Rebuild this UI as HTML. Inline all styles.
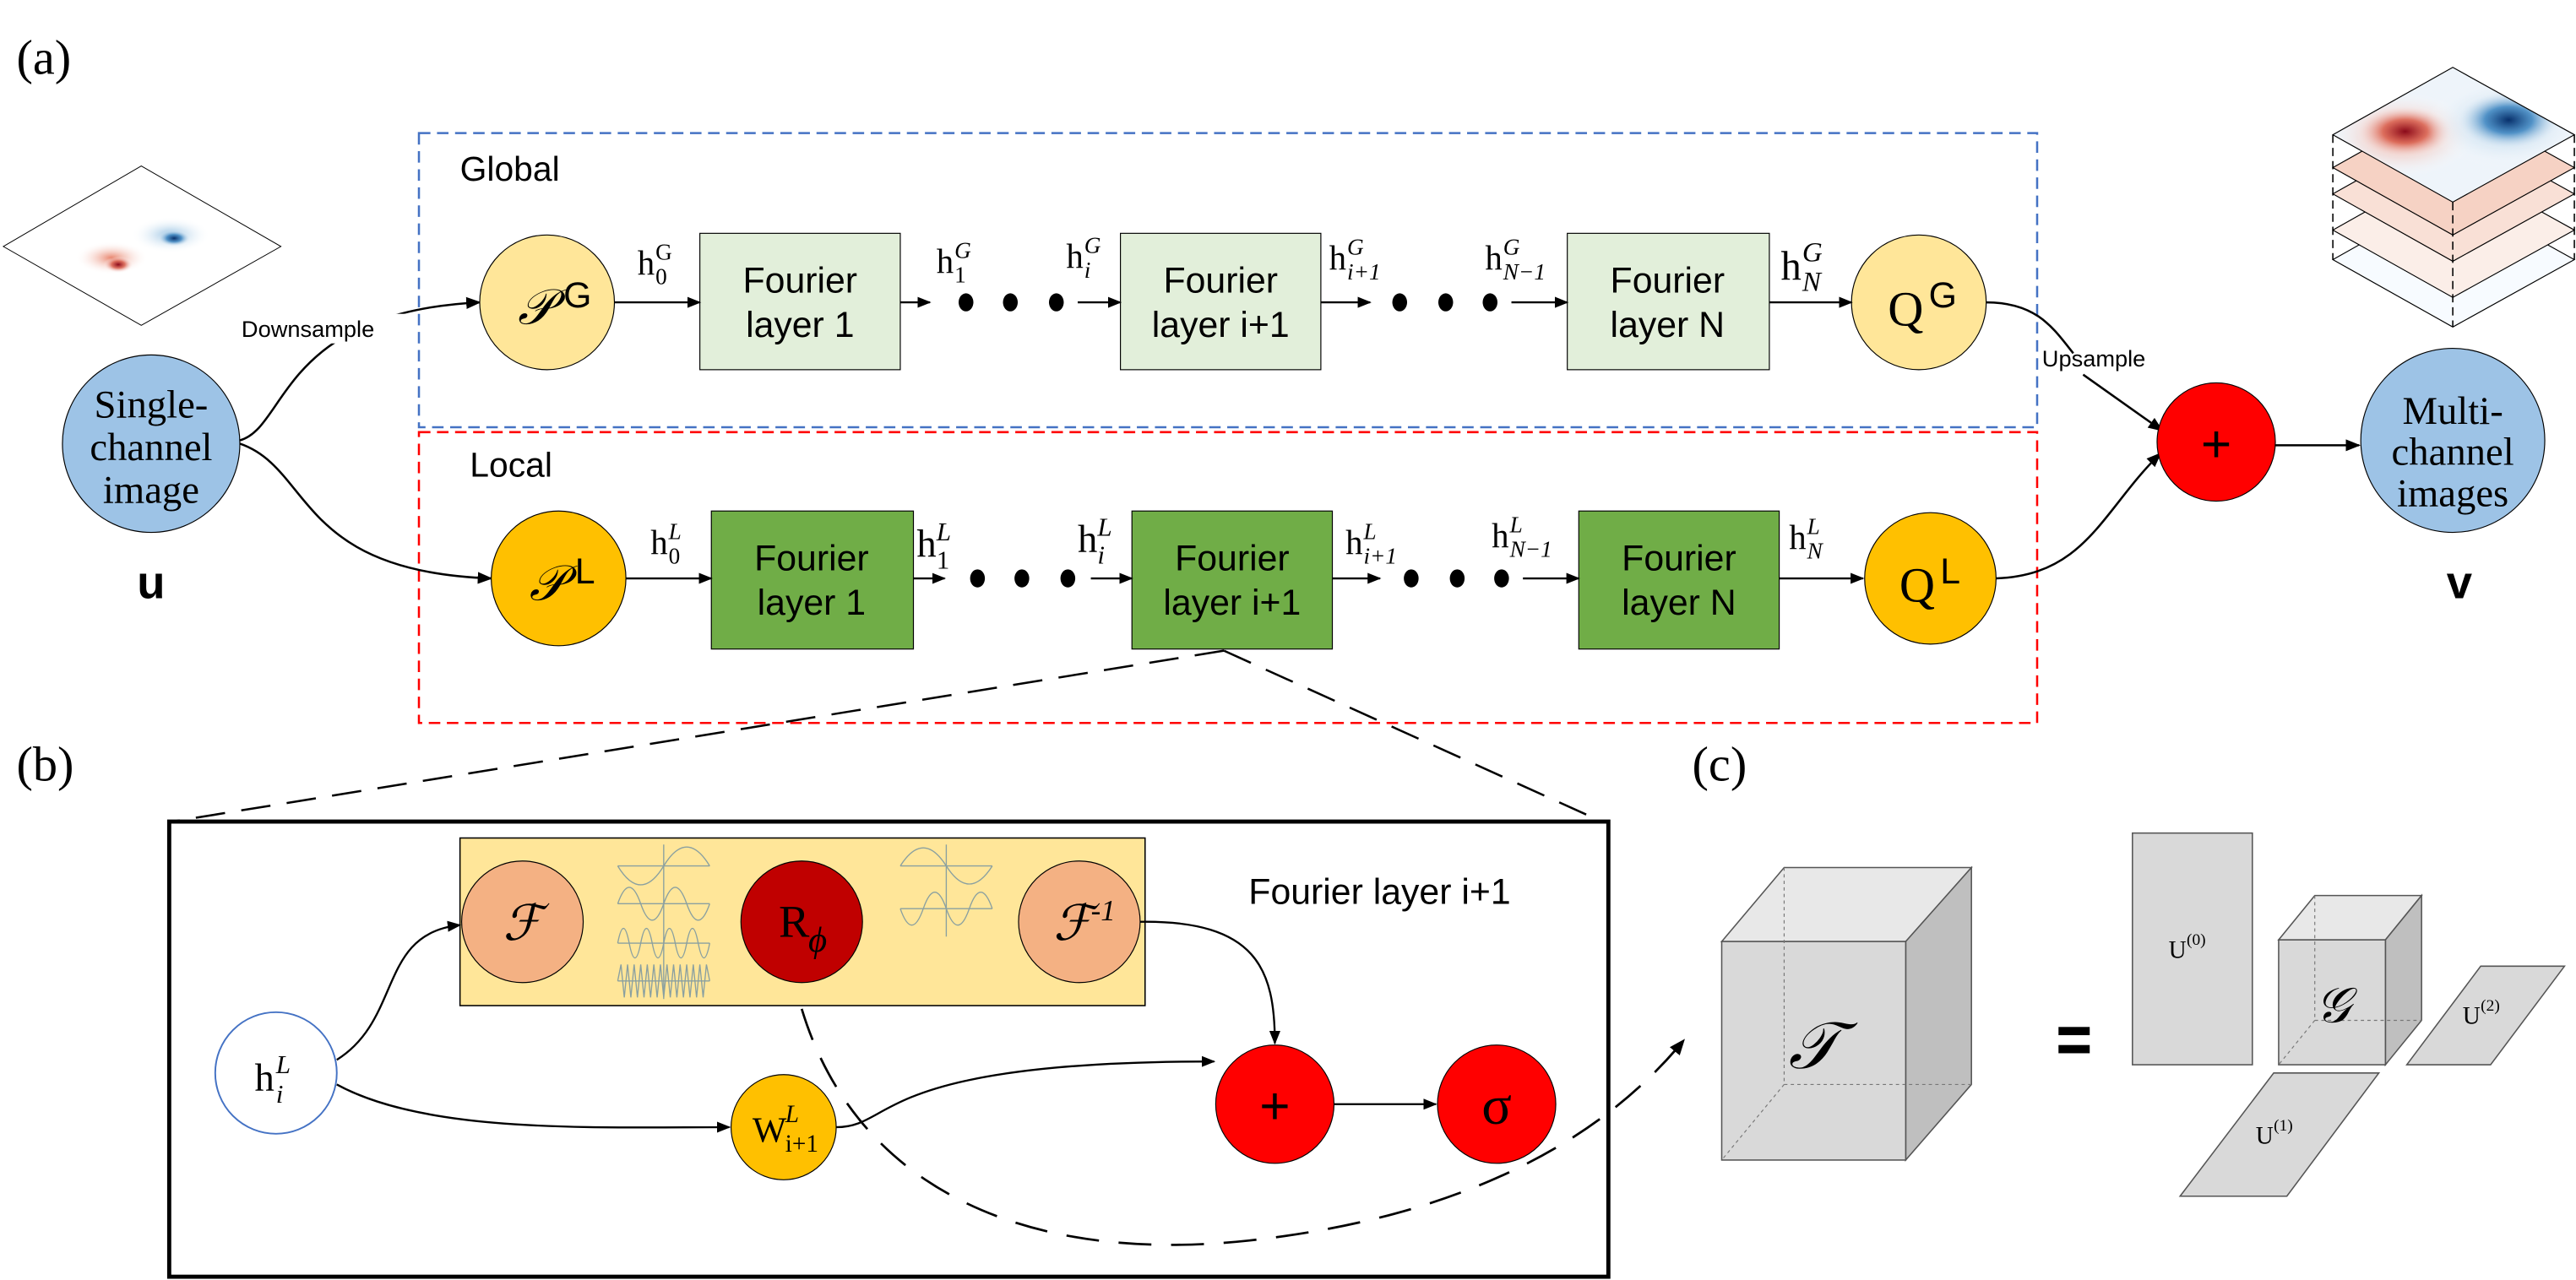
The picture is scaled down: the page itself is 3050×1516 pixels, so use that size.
<!DOCTYPE html>
<html><head><meta charset="utf-8"><style>
html,body{margin:0;padding:0;background:#fff;}
svg{display:block;}
text{font-family:"Liberation Serif",serif;}
.s{font-family:"Liberation Sans",sans-serif;}
</style></head><body>
<svg width="3050" height="1516" viewBox="0 0 1568 779" preserveAspectRatio="none" xmlns="http://www.w3.org/2000/svg">
<defs>
<marker id="a" viewBox="0 0 10 10" refX="9" refY="5" markerWidth="7" markerHeight="7" orient="auto"><path d="M0,1 L10,5 L0,9 z" fill="#000"/></marker>
<radialGradient id="rd"><stop offset="0" stop-color="#8b0a1a"/><stop offset=".45" stop-color="#d9604e" stop-opacity=".85"/><stop offset="1" stop-color="#fff" stop-opacity="0"/></radialGradient>
<radialGradient id="bl"><stop offset="0" stop-color="#08306b"/><stop offset=".45" stop-color="#3d85c0" stop-opacity=".85"/><stop offset="1" stop-color="#fff" stop-opacity="0"/></radialGradient>
<radialGradient id="rdl"><stop offset="0" stop-color="#e8826a"/><stop offset="1" stop-color="#fff" stop-opacity="0"/></radialGradient>
<radialGradient id="bll"><stop offset="0" stop-color="#8fbde0"/><stop offset="1" stop-color="#fff" stop-opacity="0"/></radialGradient>
<clipPath id="top"><path d="M1420,82 L1493,41 L1567,82 L1493,123 z"/></clipPath>
<clipPath id="in"><path d="M2,150 L86,101 L171,150 L86,198 z"/></clipPath>
</defs>
<rect width="1568" height="779" fill="#fff"/>

<text x="10" y="45" font-size="30">(a)</text>
<text x="10" y="475" font-size="30">(b)</text>
<text x="1030" y="475" font-size="30">(c)</text>

<!-- input heatmap -->
<path d="M2,150 L86,101 L171,150 L86,198 z" fill="#fff" stroke="#000" stroke-width=".5"/>
<g clip-path="url(#in)">
<ellipse cx="68" cy="157" rx="22" ry="10" fill="url(#rdl)"/>
<ellipse cx="72" cy="161" rx="9" ry="5" fill="url(#rd)"/>
<ellipse cx="104" cy="143" rx="24" ry="11" fill="url(#bll)"/>
<ellipse cx="106" cy="145" rx="10" ry="5" fill="url(#bl)"/>
</g>

<!-- output stack -->
<g stroke="#000" stroke-width=".6">
<path d="M1420,158 L1493,117 L1567,158 L1493,199 z" fill="#f7fbff"/>
<path d="M1420,140 L1493,99 L1567,140 L1493,181 z" fill="#fbeee8"/>
<path d="M1420,118 L1493,77 L1567,118 L1493,159 z" fill="#f9e0d6"/>
<path d="M1420,102 L1493,61 L1567,102 L1493,143 z" fill="#f6d2c4"/>
</g>
<g clip-path="url(#top)">
<path d="M1420,82 L1493,41 L1567,82 L1493,123 z" fill="#eef4fa"/>
<ellipse cx="1462" cy="82" rx="45" ry="26" fill="url(#rdl)"/>
<ellipse cx="1464" cy="80" rx="30" ry="16" fill="url(#rd)"/>
<ellipse cx="1525" cy="75" rx="48" ry="28" fill="url(#bll)"/>
<ellipse cx="1527" cy="73" rx="32" ry="18" fill="url(#bl)"/>
</g>
<path d="M1420,82 L1493,41 L1567,82 L1493,123 z" fill="none" stroke="#000" stroke-width=".6"/>
<g stroke="#000" stroke-width=".8" stroke-dasharray="5,3">
<line x1="1420" y1="82" x2="1420" y2="158"/><line x1="1567" y1="82" x2="1567" y2="158"/><line x1="1493" y1="123" x2="1493" y2="199"/>
</g>

<!-- dashed boxes -->
<rect x="255" y="81" width="985" height="179" fill="none" stroke="#4472c4" stroke-width="1.3" stroke-dasharray="7,4"/>
<rect x="255" y="263" width="985" height="177" fill="none" stroke="#ff0000" stroke-width="1.3" stroke-dasharray="7,4"/>
<text class="s" x="280" y="110" font-size="21">Global</text>
<text class="s" x="286" y="290" font-size="21">Local</text>

<!-- input / output circles -->
<circle cx="92" cy="270" r="54" fill="#9dc3e6" stroke="#000" stroke-width=".6"/>
<text x="92" y="254" font-size="24" text-anchor="middle">Single-</text>
<text x="92" y="280" font-size="24" text-anchor="middle">channel</text>
<text x="92" y="306" font-size="24" text-anchor="middle">image</text>
<text class="s" x="92" y="364" font-size="28" font-weight="bold" text-anchor="middle">u</text>
<circle cx="1493" cy="268" r="56" fill="#9dc3e6" stroke="#000" stroke-width=".6"/>
<text x="1493" y="258" font-size="24" text-anchor="middle">Multi-</text>
<text x="1493" y="283" font-size="24" text-anchor="middle">channel</text>
<text x="1493" y="308" font-size="24" text-anchor="middle">images</text>
<text class="s" x="1497" y="364" font-size="28" font-weight="bold" text-anchor="middle">v</text>

<!-- connectors -->
<g fill="none" stroke="#000" stroke-width="1.3">
<path d="M146,268 C175,260 170,190 292,184" marker-end="url(#a)"/>
<path d="M146,270 C190,285 180,348 299,352" marker-end="url(#a)"/>
<path d="M1209,184 C1240,184 1250,200 1262,215"/>
<path d="M1268,228 L1316,262" marker-end="url(#a)"/>
<path d="M1215,352 C1270,350 1280,310 1315,276" marker-end="url(#a)"/>
<line x1="1385" y1="271" x2="1436" y2="271" marker-end="url(#a)"/>
</g>
<rect x="145" y="191" width="104" height="18" fill="#fff"/>
<text class="s" x="147" y="205" font-size="14">Downsample</text>
<text class="s" x="1243" y="223" font-size="14">Upsample</text>

<!-- Global row -->
<circle cx="333" cy="184" r="41" fill="#ffe699" stroke="#000" stroke-width=".6"/>
<text x="326" y="197" font-size="30" font-style="italic" text-anchor="middle">𝒫</text>
<text class="s" x="343" y="187" font-size="22">G</text>
<g stroke="#000" stroke-width=".6" fill="#e2efda">
<rect x="426" y="142" width="122" height="83"/>
<rect x="682" y="142" width="122" height="83"/>
<rect x="954" y="142" width="123" height="83"/>
</g>
<g font-size="22" text-anchor="middle">
<text x="487" y="178" class="s">Fourier</text><text x="487" y="205" class="s">layer 1</text>
<text x="743" y="178" class="s">Fourier</text><text x="743" y="205" class="s">layer i+1</text>
<text x="1015" y="178" class="s">Fourier</text><text x="1015" y="205" class="s">layer N</text>
</g>
<circle cx="1168" cy="184" r="41" fill="#ffe699" stroke="#000" stroke-width=".6"/>
<text x="1160" y="198" font-size="30" text-anchor="middle">Q</text>
<text class="s" x="1174" y="187" font-size="22">G</text>

<!-- Local row -->
<circle cx="340" cy="352" r="41" fill="#ffc000" stroke="#000" stroke-width=".6"/>
<text x="333" y="365" font-size="30" font-style="italic" text-anchor="middle">𝒫</text>
<text class="s" x="350" y="355" font-size="22">L</text>
<g stroke="#000" stroke-width=".6" fill="#70ad47">
<rect x="433" y="311" width="123" height="84"/>
<rect x="689" y="311" width="122" height="84"/>
<rect x="961" y="311" width="122" height="84"/>
</g>
<g font-size="22" text-anchor="middle">
<text x="494" y="347" class="s">Fourier</text><text x="494" y="374" class="s">layer 1</text>
<text x="750" y="347" class="s">Fourier</text><text x="750" y="374" class="s">layer i+1</text>
<text x="1022" y="347" class="s">Fourier</text><text x="1022" y="374" class="s">layer N</text>
</g>
<circle cx="1175" cy="352" r="40" fill="#ffc000" stroke="#000" stroke-width=".6"/>
<text x="1167" y="366" font-size="30" text-anchor="middle">Q</text>
<text class="s" x="1181" y="355" font-size="22">L</text>

<!-- row arrows -->
<g fill="none" stroke="#000" stroke-width="1.2" marker-end="url(#a)">
<line x1="374" y1="184" x2="426" y2="184"/>
<line x1="548" y1="184" x2="566" y2="184"/>
<line x1="656" y1="184" x2="682" y2="184"/>
<line x1="804" y1="184" x2="834" y2="184"/>
<line x1="920" y1="184" x2="954" y2="184"/>
<line x1="1077" y1="184" x2="1127" y2="184"/>
<line x1="381" y1="352" x2="433" y2="352"/>
<line x1="556" y1="352" x2="575" y2="352"/>
<line x1="664" y1="352" x2="689" y2="352"/>
<line x1="811" y1="352" x2="840" y2="352"/>
<line x1="927" y1="352" x2="961" y2="352"/>
<line x1="1083" y1="352" x2="1134" y2="352"/>
</g>
<g fill="#000">
<ellipse cx="588" cy="184" rx="4.5" ry="5.5"/><ellipse cx="615" cy="184" rx="4.5" ry="5.5"/><ellipse cx="643" cy="184" rx="4.5" ry="5.5"/>
<ellipse cx="852" cy="184" rx="4.5" ry="5.5"/><ellipse cx="880" cy="184" rx="4.5" ry="5.5"/><ellipse cx="907" cy="184" rx="4.5" ry="5.5"/>
<ellipse cx="595" cy="352" rx="4.5" ry="5.5"/><ellipse cx="622" cy="352" rx="4.5" ry="5.5"/><ellipse cx="650" cy="352" rx="4.5" ry="5.5"/>
<ellipse cx="859" cy="352" rx="4.5" ry="5.5"/><ellipse cx="887" cy="352" rx="4.5" ry="5.5"/><ellipse cx="914" cy="352" rx="4.5" ry="5.5"/>
</g>
<!-- h labels -->
<g font-size="21">
<text x="388" y="167">h</text><text x="399" y="173" font-size="14">0</text><text x="399" y="158" font-size="14">G</text>
<text x="570" y="166">h</text><text x="581" y="172" font-size="14">1</text><text x="581" y="157" font-size="14" font-style="italic">G</text>
<text x="649" y="163">h</text><text x="660" y="169" font-size="14" font-style="italic">i</text><text x="660" y="154" font-size="14" font-style="italic">G</text>
<text x="809" y="164">h</text><text x="820" y="170" font-size="14" font-style="italic">i+1</text><text x="820" y="155" font-size="14" font-style="italic">G</text>
<text x="904" y="164">h</text><text x="915" y="170" font-size="14" font-style="italic">N−1</text><text x="915" y="155" font-size="14" font-style="italic">G</text>
<text x="1084" y="170" font-size="25">h</text><text x="1097" y="177" font-size="17" font-style="italic">N</text><text x="1097" y="159" font-size="17" font-style="italic">G</text>
<text x="396" y="337">h</text><text x="407" y="343" font-size="14">0</text><text x="407" y="328" font-size="14" font-style="italic">L</text>
<text x="558" y="339" font-size="24">h</text><text x="570" y="346" font-size="16">1</text><text x="570" y="329" font-size="16" font-style="italic">L</text>
<text x="656" y="336" font-size="24">h</text><text x="668" y="343" font-size="16" font-style="italic">i</text><text x="668" y="326" font-size="16" font-style="italic">L</text>
<text x="819" y="337">h</text><text x="830" y="343" font-size="14" font-style="italic">i+1</text><text x="830" y="328" font-size="14" font-style="italic">L</text>
<text x="908" y="333">h</text><text x="919" y="339" font-size="14" font-style="italic">N−1</text><text x="919" y="324" font-size="14" font-style="italic">L</text>
<text x="1089" y="334">h</text><text x="1100" y="340" font-size="14" font-style="italic">N</text><text x="1100" y="325" font-size="14" font-style="italic">L</text>
</g>

<!-- plus -->
<circle cx="1349" cy="269" r="36" fill="#ff0000" stroke="#000" stroke-width=".6"/>
<text class="s" x="1349" y="281" font-size="32" text-anchor="middle">+</text>

<!-- zoom dashed lines -->
<g stroke="#000" stroke-width="1.3" stroke-dasharray="18,10" fill="none">
<line x1="745" y1="396" x2="105" y2="500"/>
<line x1="745" y1="396" x2="975" y2="500"/>
</g>

<!-- (b) box -->
<rect x="103" y="500" width="876" height="277" fill="none" stroke="#000" stroke-width="2.5"/>
<rect x="280" y="510" width="417" height="102" fill="#ffe699" stroke="#000" stroke-width=".8"/>
<text class="s" x="760" y="550" font-size="22">Fourier layer i+1</text>
<!-- waves -->
<g fill="none" stroke="#8aa0a0" stroke-width=".7">
<line x1="376" y1="527" x2="432" y2="527"/><line x1="376" y1="550" x2="432" y2="550"/><line x1="376" y1="574" x2="432" y2="574"/><line x1="376" y1="597" x2="432" y2="597"/>
<line x1="404" y1="514" x2="404" y2="608"/>
<path d="M376,527 Q390,550 404,527 Q418,504 432,527"/>
<path d="M376,550 Q383,530 390,550 Q397,570 404,550 Q411,530 418,550 Q425,570 432,550"/>
<path d="M376,574 Q379.5,556 383,574 Q386.5,592 390,574 Q393.5,556 397,574 Q400.5,592 404,574 Q407.5,556 411,574 Q414.5,592 418,574 Q421.5,556 425,574 Q428.5,592 432,574"/>
<path d="M376,597 L378,587 L380,607 L382,587 L384,607 L386,587 L388,607 L390,587 L392,607 L394,587 L396,607 L398,587 L400,607 L402,587 L404,607 L406,587 L408,607 L410,587 L412,607 L414,587 L416,607 L418,587 L420,607 L422,587 L424,607 L426,587 L428,607 L430,587 L432,597"/>
<line x1="548" y1="527" x2="604" y2="527"/><line x1="548" y1="553" x2="604" y2="553"/><line x1="576" y1="514" x2="576" y2="570"/>
<path d="M548,527 Q562,505 576,527 Q590,549 604,527"/>
<path d="M548,553 Q555,573 562,553 Q569,533 576,553 Q583,573 590,553 Q597,533 604,553"/>
</g>
<circle cx="318" cy="561" r="37" fill="#f4b183" stroke="#000" stroke-width=".6"/>
<text x="318" y="572" font-size="30" font-style="italic" text-anchor="middle">ℱ</text>
<circle cx="488" cy="561" r="37" fill="#c00000" stroke="#000" stroke-width=".6"/>
<text x="474" y="570" font-size="28">R</text><text x="492" y="579" font-size="22" font-style="italic">ϕ</text>
<circle cx="657" cy="561" r="37" fill="#f4b183" stroke="#000" stroke-width=".6"/>
<text x="653" y="572" font-size="30" font-style="italic" text-anchor="middle">ℱ</text><text x="664" y="560" font-size="18" font-style="italic">-1</text>

<circle cx="168" cy="653" r="37" fill="#fff" stroke="#4472c4" stroke-width="1"/>
<text x="155" y="664" font-size="24">h</text><text x="168" y="671" font-size="16" font-style="italic">i</text><text x="168" y="653" font-size="16" font-style="italic">L</text>
<circle cx="477" cy="686" r="32" fill="#ffc000" stroke="#000" stroke-width=".6"/>
<text x="458" y="695" font-size="22">W</text><text x="478" y="701" font-size="15">i+1</text><text x="478" y="683" font-size="15" font-style="italic">L</text>
<circle cx="776" cy="672" r="36" fill="#ff0000" stroke="#000" stroke-width=".6"/>
<text class="s" x="776" y="684" font-size="32" text-anchor="middle">+</text>
<circle cx="911" cy="672" r="36" fill="#ff0000" stroke="#000" stroke-width=".6"/>
<text x="911" y="684" font-size="34" text-anchor="middle">σ</text>

<g fill="none" stroke="#000" stroke-width="1.2">
<path d="M205,645 C245,620 230,568 280,563" marker-end="url(#a)"/>
<path d="M205,660 C260,690 360,686 444,686" marker-end="url(#a)"/>
<path d="M509,686 C545,686 530,646 739,646" marker-end="url(#a)"/>
<path d="M694,561 C765,560 776,590 776,635" marker-end="url(#a)"/>
<line x1="812" y1="672" x2="874" y2="672" marker-end="url(#a)"/>
</g>
<path d="M488,614 C520,720 620,770 760,755 C880,742 970,700 1025,633" fill="none" stroke="#000" stroke-width="1.4" stroke-dasharray="20,12" marker-end="url(#a)"/>

<!-- (c) tensor cube -->
<g stroke="#555" stroke-width=".8">
<path d="M1048,573 L1086,528 L1200,528 L1160,573 z" fill="#e8e8e8"/>
<path d="M1160,573 L1200,528 L1200,660 L1160,706 z" fill="#bfbfbf"/>
<rect x="1048" y="573" width="112" height="133" fill="#d9d9d9"/>
</g>
<g stroke="#777" stroke-width=".6" stroke-dasharray="2,2" fill="none">
<path d="M1086,528 L1086,660 L1200,660 M1086,660 L1048,706"/>
</g>
<text x="1104" y="650" font-size="40" font-style="italic" text-anchor="middle">𝒯</text>
<g fill="#000"><rect x="1253" y="625" width="19" height="5"/><rect x="1253" y="636" width="19" height="5"/></g>
<rect x="1298" y="507" width="73" height="141" fill="#d9d9d9" stroke="#555" stroke-width=".8"/>
<text x="1320" y="583" font-size="15">U</text><text x="1331" y="575" font-size="10">(0)</text>
<g stroke="#555" stroke-width=".8">
<path d="M1387,572 L1409,545 L1474,545 L1452,572 z" fill="#e8e8e8"/>
<path d="M1452,572 L1474,545 L1474,621 L1452,648 z" fill="#bfbfbf"/>
<rect x="1387" y="572" width="65" height="76" fill="#d9d9d9"/>
</g>
<path d="M1409,545 L1409,621 L1474,621 M1409,621 L1387,648" fill="none" stroke="#777" stroke-width=".6" stroke-dasharray="2,2"/>
<text x="1420" y="622" font-size="30" font-style="italic" text-anchor="middle">𝒢</text>
<path d="M1465,648 L1510,588 L1561,588 L1516,648 z" fill="#d9d9d9" stroke="#555" stroke-width=".8"/>
<text x="1499" y="623" font-size="15">U</text><text x="1510" y="615" font-size="10">(2)</text>
<path d="M1327,728 L1384,653 L1448,653 L1392,728 z" fill="#d9d9d9" stroke="#555" stroke-width=".8"/>
<text x="1373" y="696" font-size="15">U</text><text x="1384" y="688" font-size="10">(1)</text>
</svg>
</body></html>
